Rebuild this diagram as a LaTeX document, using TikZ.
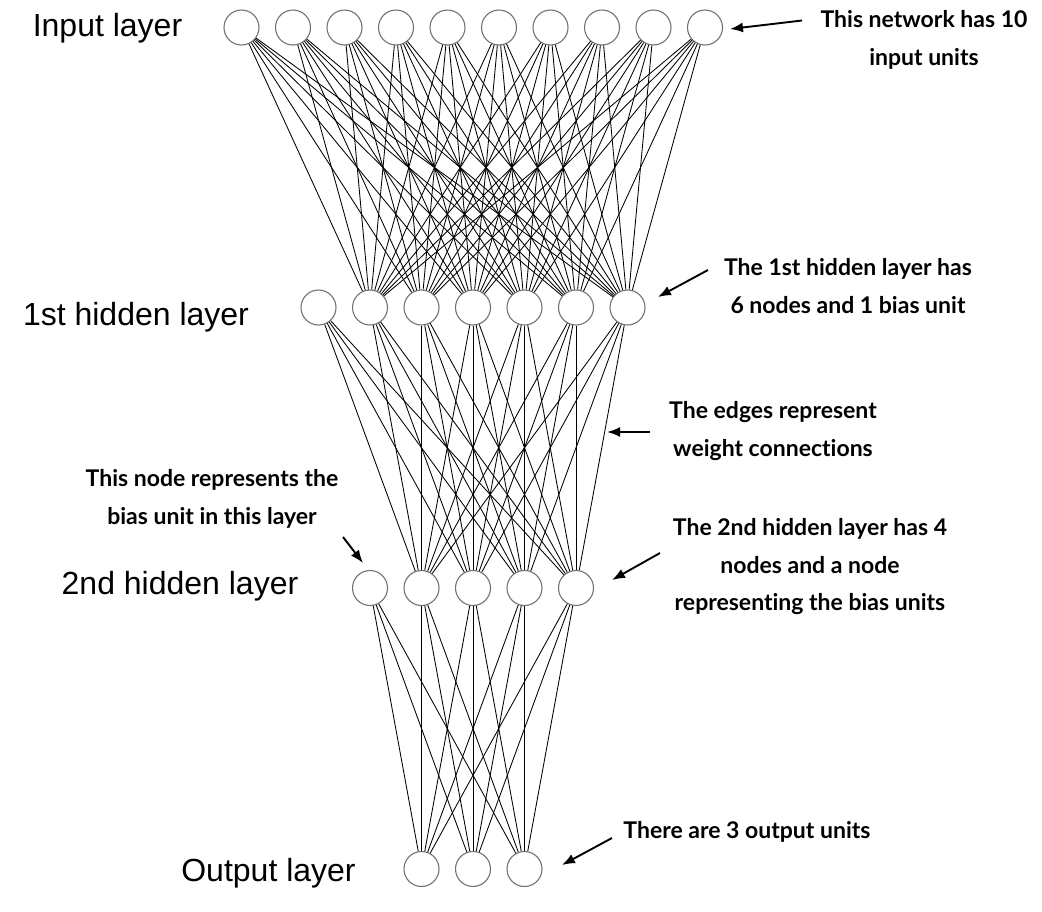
\documentclass[tikz,border=0pt]{standalone}
\usepackage{fontspec}
\setmainfont{Liberation Sans}
\newfontfamily\annfont{Lato}[Ligatures={NoCommon}]
\usetikzlibrary{arrows.meta}
\begin{document}
\begin{tikzpicture}[x=1pt,y=-1pt,
  unit/.style={circle,draw=black!55,line width=1.1pt,minimum size=35pt,inner sep=0pt,fill=white},
  edge/.style={line width=0.85pt,black},
  layerlbl/.style={font=\fontsize{32}{36}\selectfont,inner sep=0pt},
  ann/.style={font=\annfont\bfseries\fontsize{23}{37.5}\selectfont,align=center,inner sep=0pt},
  annarrow/.style={line width=1.9pt,-{Latex[length=13pt,width=10pt]}}]
\useasboundingbox (0,0) rectangle (1042,911);
% input layer
\foreach \i in {1,...,10} {
  \node[unit] (i\i) at ({241.5+(\i-1)*51.5},27.5) {};
}
% 1st hidden layer
\foreach \i in {1,...,7} {
  \node[unit] (h\i) at ({318.5+(\i-1)*51.5},307.5) {};
}
% 2nd hidden layer
\foreach \i in {1,...,5} {
  \node[unit] (g\i) at ({370+(\i-1)*51.5},588) {};
}
% output layer
\foreach \i in {1,...,3} {
  \node[unit] (o\i) at ({421.5+(\i-1)*51.5},869) {};
}
% edges
\foreach \i in {1,...,10} \foreach \j in {2,...,7} \draw[edge] (i\i) -- (h\j);
\foreach \i in {1,...,7} \foreach \j in {2,...,5} \draw[edge] (h\i) -- (g\j);
\foreach \i in {1,...,5} \foreach \j in {1,...,3} \draw[edge] (g\i) -- (o\j);
% layer labels
\node[layerlbl] (linput) at (107.5,28) {Input layer};
\node[layerlbl] (lh1) at (136,317) {1st hidden layer};
\node[layerlbl] (lh2) at (180,586) {2nd hidden layer};
\node[layerlbl] (lout) at (268.5,873) {Output layer};
% annotations
\node[ann] (a1) at (924,40) {This network has 10\\input units};
\coordinate (a1s) at (802,20.5);
\coordinate (a1e) at (730,29);
\draw[annarrow] (a1s) -- (a1e);
\node[ann] (a2) at (848,286) {The 1st hidden layer has\\6 nodes and 1 bias unit};
\coordinate (a2s) at (708,270);
\coordinate (a2e) at (658,297);
\draw[annarrow] (a2s) -- (a2e);
\node[ann] (a3) at (773,431) {The edges represent\\weight connections};
\coordinate (a3s) at (650,432);
\coordinate (a3e) at (607,432);
\draw[annarrow] (a3s) -- (a3e);
\node[ann] (a4) at (212,499) {This node represents the\\bias unit in this layer};
\coordinate (a4s) at (343,537);
\coordinate (a4e) at (363,563);
\draw[annarrow] (a4s) -- (a4e);
\node[ann] (a5) at (810,567) {The 2nd hidden layer has 4\\nodes and a node\\representing the bias units};
\coordinate (a5s) at (660,553);
\coordinate (a5e) at (612,580);
\draw[annarrow] (a5s) -- (a5e);
\node[ann] (a6) at (747,832) {There are 3 output units};
\coordinate (a6s) at (612,838);
\coordinate (a6e) at (562,865);
\draw[annarrow] (a6s) -- (a6e);
\end{tikzpicture}
\end{document}
